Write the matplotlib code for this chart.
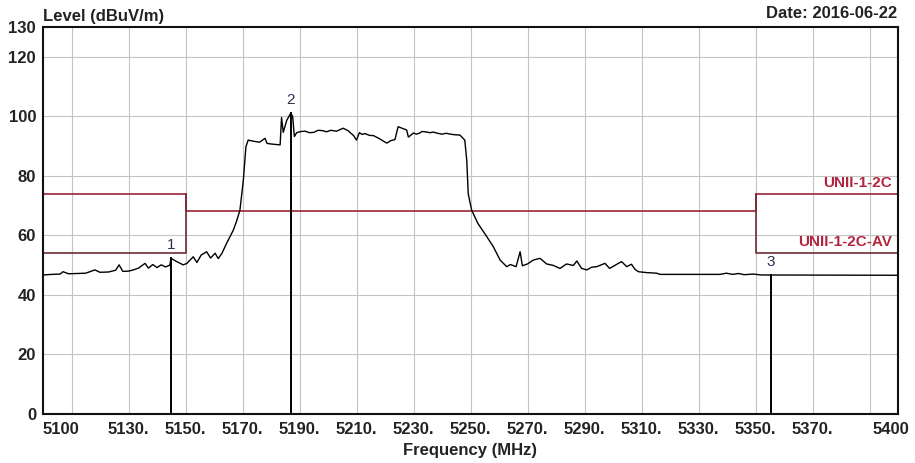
import matplotlib
matplotlib.use("Agg")
import matplotlib.pyplot as plt
from matplotlib.transforms import ScaledTranslation

plt.rcParams['font.family'] = ['Liberation Sans', 'DejaVu Sans']

# ---- data ----
freq = [5100, 5103, 5106, 5107, 5109, 5112, 5115, 5118.2, 5120, 5123, 5125.5, 5126.7,
        5128, 5130, 5131.7, 5133.5, 5135.8, 5137, 5138.5, 5140, 5141.5, 5143, 5144.5,
        5144.9, 5146.9, 5149.2, 5150.5, 5152.7, 5154, 5155.5, 5157.4, 5158.8, 5160.4,
        5161.5, 5162.8, 5164.4, 5166.8, 5168, 5169.1, 5170.3, 5171.2, 5172, 5174,
        5176, 5177.9, 5178.6, 5180, 5182, 5183.2, 5183.7, 5184.3, 5185.5, 5186.9,
        5187.6, 5188.2, 5189, 5190.5, 5192, 5193.5, 5195, 5196.5, 5198, 5199.5, 5201,
        5203, 5205.3, 5207, 5209, 5210,
        5211, 5212, 5213, 5214.5, 5216, 5218, 5220.6, 5222, 5223.5, 5224.6, 5226, 5227.6,
        5228.2, 5230, 5231, 5232, 5233, 5234, 5235.8, 5237, 5238, 5240, 5241.5, 5243,
        5244.5, 5246.3, 5248, 5248.7, 5249.2,
        5250.4, 5252.6, 5255.7, 5258, 5260.4, 5262.7, 5264, 5266, 5267.4, 5268.2,
        5270, 5272, 5274.4, 5276.7, 5279.1, 5281.4, 5283.7, 5286.1, 5287.3, 5289,
        5290.8, 5292.5, 5294.3, 5297.2, 5298.8, 5300.1, 5303, 5304.8, 5306.5, 5307.7,
        5308.9, 5311.8, 5315.3, 5316.5, 5337.5, 5339.8, 5342, 5344, 5346, 5349.2,
        5352, 5400]
level = [46.7, 46.9, 47.0, 47.8, 47.1, 47.2, 47.3, 48.4, 47.6, 47.7, 48.3, 50.1,
         47.9, 48.0, 48.4, 49.0, 50.6, 49.0, 50.2, 49.2, 50.1, 49.4, 50.0,
         52.3, 51.2, 50.1, 50.6, 52.8, 50.9, 53.4, 54.5, 52.4, 54.0,
         52.2, 54.0, 57.3, 61.8, 65.0, 68.5, 78.6, 89.8, 92.0, 91.6,
         91.3, 92.6, 90.9, 90.7, 90.5, 90.4, 99.6, 94.6, 98.6, 101.0,
         100.0, 93.2, 94.5, 94.9, 95.0, 94.5, 94.6, 95.3, 95.2, 94.8, 95.3,
         95.0, 96.0, 95.2, 93.5, 92.0,
         94.5, 93.9, 94.2, 93.6, 93.5, 92.5, 91.0, 91.8, 92.2, 96.5, 96.0, 95.4,
         93.0, 94.4, 94.0, 94.3, 94.9, 94.8, 94.5, 94.7, 94.4, 94.0, 94.3, 94.0,
         93.8, 93.7, 92.0, 85.0, 74.0,
         68.5, 64.0, 59.6, 56.2, 51.7, 49.5, 50.2, 49.5, 54.5, 49.8,
         50.4, 51.7, 52.3, 50.4, 49.9, 48.9, 50.4, 49.9, 51.4, 48.9,
         48.4, 49.3, 49.5, 50.6, 48.9, 49.6, 51.2, 49.5, 50.3, 48.6,
         47.8, 47.5, 47.3, 46.9, 46.9, 47.3, 46.9, 47.2, 46.8, 47.0,
         46.7, 46.6]

marker_freq = [5144.9, 5186.9, 5355.4]
marker_level = [52.3, 101.0, 46.7]
marker_names = ["1", "2", "3"]

# limit lines (step shapes)
peak_limit_freq = [5100, 5150, 5150, 5350, 5350, 5400]
peak_limit_level = [74.0, 74.0, 68.2, 68.2, 74.0, 74.0]
av_limit_left_freq = [5100, 5150, 5150]
av_limit_left_level = [54.0, 54.0, 74.0]
av_limit_right_freq = [5350, 5350, 5400]
av_limit_right_level = [74.0, 54.0, 54.0]

xtick_pos = [5100, 5130, 5150, 5170, 5190, 5210, 5230, 5250, 5270, 5290, 5310,
             5330, 5350, 5370, 5400]
xtick_lab = ["5100", "5130.", "5150.", "5170.", "5190.", "5210.", "5230.", "5250.",
             "5270.", "5290.", "5310.", "5330.", "5350.", "5370.", "5400"]
xgrid = [5110, 5130, 5150, 5170, 5190, 5210, 5230, 5250, 5270, 5290, 5310, 5330,
         5350, 5370, 5390]
ytick_pos = [0, 20, 40, 60, 80, 100, 120, 130]
ygrid = [20, 40, 60, 80, 100, 120]

# ---- figure ----
fig = plt.figure(figsize=(9.15, 4.63), dpi=100)
ax = fig.add_axes([43/915, 1-414/463, (898-43)/915, (414-27)/463])
ax.set_xlim(5100, 5400)
ax.set_ylim(0, 130)

for g in xgrid:
    ax.axvline(g, color="#c4c4c4", lw=0.8, zorder=1)
for g in ygrid:
    ax.axhline(g, color="#c4c4c4", lw=0.8, zorder=1)

lim_col = "#9b2335"
ax.plot(peak_limit_freq, peak_limit_level, color=lim_col, lw=1.2, zorder=2)
ax.plot(av_limit_left_freq, av_limit_left_level, color="#6e2b33", lw=1.2, zorder=2)
ax.plot(av_limit_right_freq, av_limit_right_level, color="#6e2b33", lw=1.2, zorder=2)

ax.plot(freq, level, color="black", lw=1.0, zorder=3)

for f, v, n in zip(marker_freq, marker_level, marker_names):
    ax.plot([f, f], [0, v], color="black", lw=1.4, zorder=4)
    ax.text(f, v + 2.0, n, ha="center", va="bottom", fontsize=11,
            color="#2e2e50", zorder=5)

ax.text(5398, 77.5, "UNII-1-2C", ha="right", va="center", fontsize=11,
        fontweight="bold", color="#b3263f")
ax.text(5398, 57.8, "UNII-1-2C-AV", ha="right", va="center", fontsize=11,
        fontweight="bold", color="#b3263f")

ax.set_xticks(xtick_pos)
ax.set_xticklabels(xtick_lab)
ax.set_yticks(ytick_pos)
ax.set_yticklabels([str(v) for v in ytick_pos])
ax.tick_params(axis="both", length=0, labelsize=12, colors="#222222")
ax.tick_params(axis="x", pad=6)
ax.tick_params(axis="y", pad=5)
for lab in ax.get_xticklabels() + ax.get_yticklabels():
    lab.set_fontweight("bold")
xl = ax.get_xticklabels()
xl[0].set_horizontalalignment("left")
xl[-1].set_transform(xl[-1].get_transform() +
                     ScaledTranslation(-7/100, 0, fig.dpi_scale_trans))

for s in ax.spines.values():
    s.set_color("#111111")
    s.set_linewidth(1.5)

fig.text(43/915, 1-16/463, "Level (dBuV/m)", ha="left", va="center",
         fontsize=12, fontweight="bold", color="#222222")
fig.text(897/915, 1-14/463, "Date: 2016-06-22", ha="right", va="center",
         fontsize=12, fontweight="bold", color="#222222")
fig.text(470/915, 1-451/463, "Frequency (MHz)", ha="center", va="center",
         fontsize=12, fontweight="bold", color="#222222")

fig.savefig("out.png", dpi=100, facecolor="white")
